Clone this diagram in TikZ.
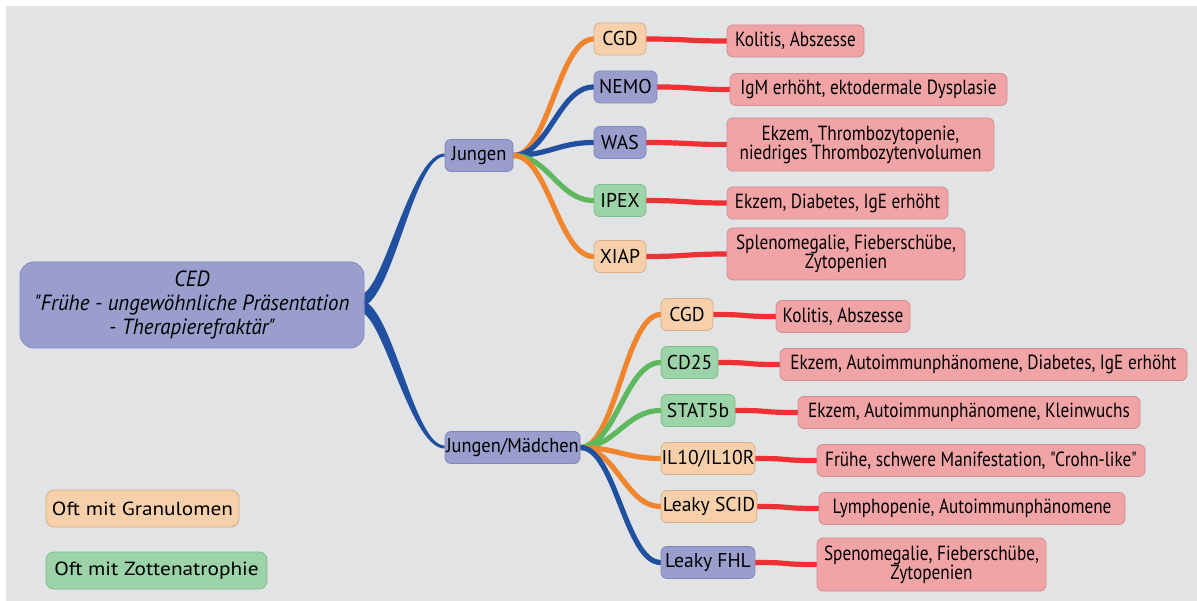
\documentclass[tikz,border=0pt]{standalone}
\usepackage{fontspec}
\setmainfont{PT Sans}
\newfontfamily\cf[FakeStretch=0.84]{PT Sans}
\newfontfamily\gf[FakeStretch=0.98]{PT Sans}
\newfontfamily\jf[FakeStretch=0.92]{PT Sans}
\newfontfamily\rf[FakeStretch=0.95]{PT Sans}
\newfontfamily\lf[FakeStretch=1.12]{PT Sans}
\usetikzlibrary{calc}
\definecolor{bgc}{HTML}{E2E3E5}
\definecolor{bfill}{HTML}{9A9ECD}\definecolor{bdraw}{HTML}{8287BF}
\definecolor{ofill}{HTML}{F6D0AA}\definecolor{odraw}{HTML}{D8AE88}
\definecolor{gfill}{HTML}{9DD3A8}\definecolor{gdraw}{HTML}{7CBF8A}
\definecolor{rfill}{HTML}{F0A4A6}\definecolor{rdraw}{HTML}{D38D90}
\definecolor{ecblue}{HTML}{2150A0}
\definecolor{ecorange}{HTML}{F0852D}
\definecolor{ecgreen}{HTML}{5DB85E}
\definecolor{ecred}{HTML}{EE3135}
\pgfdeclarelayer{bg}\pgfdeclarelayer{edges}
\pgfsetlayers{bg,edges,main}
\tikzset{
  box/.style={rounded corners=6pt, line width=0.8pt, inner sep=0pt, align=center,
    minimum height=32pt, font=\cf\fontsize{20.5}{19}\selectfont},
  genefont/.style={font=\gf\fontsize{20}{20}\selectfont},
  junfont/.style={font=\jf\fontsize{20}{20}\selectfont},
  bluebox/.style={box, fill=bfill, draw=bdraw},
  orangebox/.style={box, fill=ofill, draw=odraw},
  greenbox/.style={box, fill=gfill, draw=gdraw},
  redbox/.style={box, fill=rfill, draw=rdraw},
  legendbox/.style={rounded corners=8pt, line width=0.8pt, inner sep=0pt, minimum height=37pt,
    font=\lf\fontsize{19}{19}\selectfont},
  conn/.style={line width=5.2pt, line cap=round},
}
\newcommand{\gcurve}[3]{\draw[conn,#1] (#2.east) .. controls +(35,0) and +(-35,0) .. (#3.west);}
\newcommand{\rcurve}[2]{\draw[conn,ecred] (#1.east) .. controls +(40,0) and +(-40,0) .. (#2.west);}
\begin{document}
\begin{tikzpicture}[x=1pt,y=-1pt]
\useasboundingbox (0,0) rectangle (1197,601);
\begin{pgfonlayer}{bg}
\fill[bgc] (6,6) rectangle (1197,601);
\end{pgfonlayer}
% root
\node[bluebox, rounded corners=14pt, minimum width=344pt, minimum height=86pt,
  font=\rf\itshape\fontsize{22}{24}\selectfont] (ced) at (192,305)
  {CED\\"Frühe - ungewöhnliche Präsentation\\- Therapierefraktär"};
\node[bluebox, junfont, minimum width=68pt] (jun) at (479,155.5) {Jungen};
\node[bluebox, junfont, minimum width=135pt] (jm) at (512.5,447.5) {Jungen/Mädchen};
% Jungen genes
\node[orangebox, genefont, minimum width=52pt] (cgda) at (620,39) {CGD};
\node[bluebox, genefont, minimum width=63pt] (nemo) at (625.5,87) {NEMO};
\node[bluebox, genefont, minimum width=52pt] (was) at (620,142.5) {WAS};
\node[greenbox, genefont, minimum width=52pt] (ipex) at (620,200.5) {IPEX};
\node[orangebox, genefont, minimum width=52pt] (xiap) at (620,256.5) {XIAP};
% symptoms
\node[redbox, minimum width=137pt] (sa) at (795.5,41) {Kolitis, Abszesse};
\node[redbox, minimum width=277pt] (sb) at (868.5,89.5) {IgM erhöht, ektodermale Dysplasie};
\node[redbox, minimum width=267pt, minimum height=53pt] (sc) at (860.5,144.5) {Ekzem, Thrombozytopenie,\\niedriges Thrombozytenvolumen};
\node[redbox, minimum width=221pt] (sd) at (837.5,203) {Ekzem, Diabetes, IgE erhöht};
\node[redbox, minimum width=238pt, minimum height=52pt] (se) at (846,254) {Splenomegalie, Fieberschübe,\\Zytopenien};
% Jungen/Maedchen genes
\node[orangebox, genefont, minimum width=52pt] (cgdb) at (687,314.5) {CGD};
\node[greenbox, genefont, minimum width=57pt] (cd) at (689.5,362.5) {CD25};
\node[greenbox, genefont, minimum width=74pt] (stat) at (698,410.5) {STAT5b};
\node[orangebox, genefont, minimum width=94pt] (il) at (708,458.5) {IL10/IL10R};
\node[orangebox, genefont, minimum width=96pt] (scid) at (709,506.5) {Leaky SCID};
\node[bluebox, genefont, minimum width=94pt] (fhl) at (708,562.5) {Leaky FHL};
% symptoms
\node[redbox, minimum width=134pt] (ta) at (843,316.5) {Kolitis, Abszesse};
\node[redbox, minimum width=407pt] (tb) at (983.5,364.5) {Ekzem, Autoimmunphänomene, Diabetes, IgE erhöht};
\node[redbox, minimum width=342pt] (tc) at (969,412.5) {Ekzem, Autoimmunphänomene, Kleinwuchs};
\node[redbox, minimum width=328pt] (td) at (981,460.5) {Frühe, schwere Manifestation, "Crohn-like"};
\node[redbox, minimum width=306pt] (te) at (972,508.5) {Lymphopenie, Autoimmunphänomene};
\node[redbox, minimum width=229pt, minimum height=53pt] (tf) at (931.5,564.5) {Spenomegalie, Fieberschübe,\\Zytopenien};
% legend
\node[legendbox, fill=ofill, draw=odraw, minimum width=193pt] (la) at (142.5,508.5) {Oft mit Granulomen};
\node[legendbox, fill=gfill, draw=gdraw, minimum width=221pt] (lb) at (156.5,570.5) {Oft mit Zottenatrophie};
% connectors
\begin{pgfonlayer}{edges}
\fill[ecblue] ($(ced.east)+(0,-12)$) .. controls ($(ced.east)+(22,-27)$) and ($(jun.west)+(-32,-2.5)$) .. ($(jun.west)+(0,-2)$)
  -- ($(jun.west)+(0,1)$) .. controls ($(jun.west)+(-30,1.5)$) and ($(ced.east)+(30,-13)$) .. ($(ced.east)+(0,1)$) -- cycle;
\fill[ecblue] ($(ced.east)+(0,-4)$) .. controls ($(ced.east)+(30,10)$) and ($(jm.west)+(-30,-2)$) .. ($(jm.west)+(0,-2)$)
  -- ($(jm.west)+(0,1)$) .. controls ($(jm.west)+(-32,1.5)$) and ($(ced.east)+(22,25)$) .. ($(ced.east)+(0,9)$) -- cycle;
\gcurve{ecorange}{jun}{cgda}
\gcurve{ecblue}{jun}{nemo}
\gcurve{ecblue}{jun}{was}
\gcurve{ecgreen}{jun}{ipex}
\gcurve{ecorange}{jun}{xiap}
\gcurve{ecorange}{jm}{cgdb}
\gcurve{ecgreen}{jm}{cd}
\gcurve{ecgreen}{jm}{stat}
\gcurve{ecorange}{jm}{il}
\gcurve{ecorange}{jm}{scid}
\gcurve{ecblue}{jm}{fhl}
\rcurve{cgda}{sa}
\rcurve{nemo}{sb}
\rcurve{was}{sc}
\rcurve{ipex}{sd}
\rcurve{xiap}{se}
\rcurve{cgdb}{ta}
\rcurve{cd}{tb}
\rcurve{stat}{tc}
\rcurve{il}{td}
\rcurve{scid}{te}
\rcurve{fhl}{tf}
\end{pgfonlayer}
\end{tikzpicture}
\end{document}
